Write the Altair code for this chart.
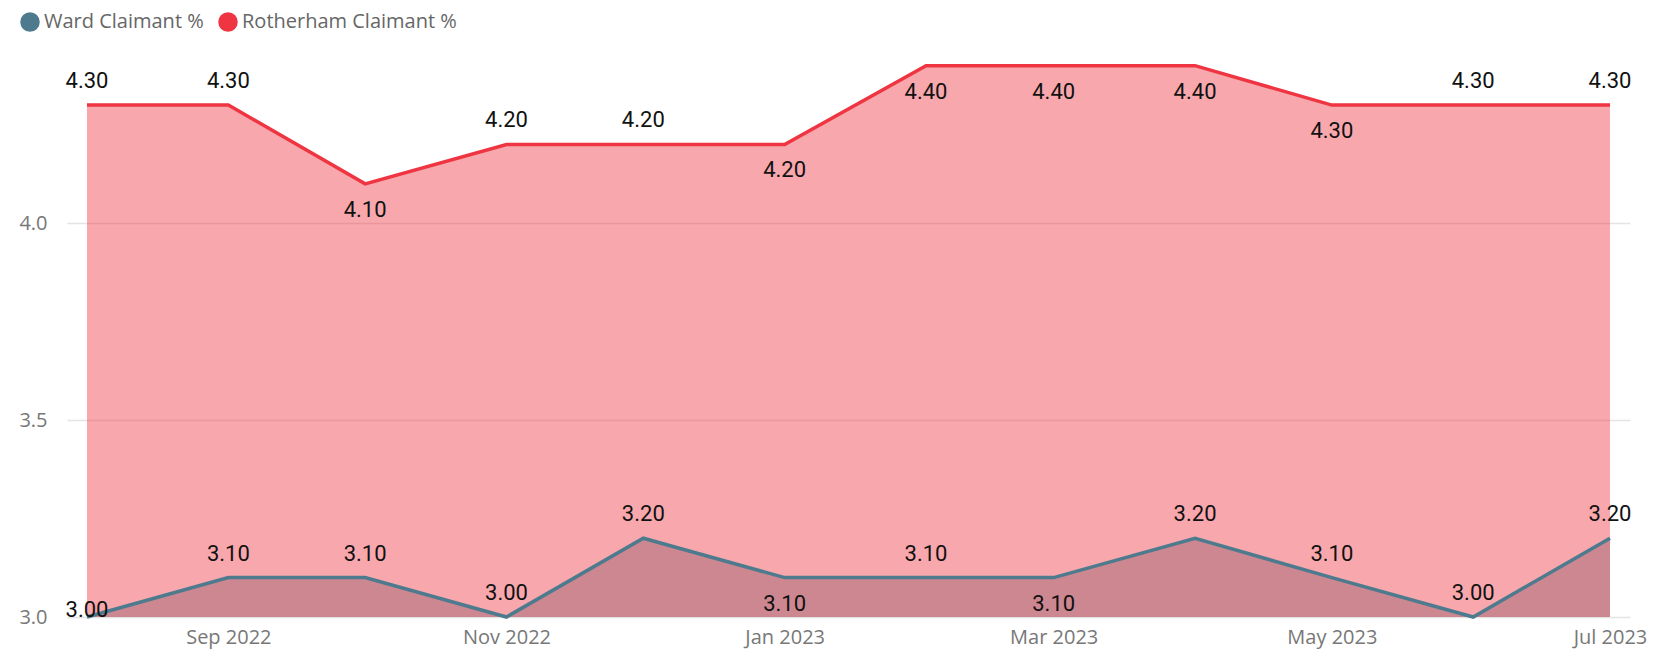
import altair as alt
import pandas as pd

months = ["2022-08-01", "2022-09-01", "2022-10-01", "2022-11-01", "2022-12-01", "2023-01-01",
          "2023-02-01", "2023-03-01", "2023-04-01", "2023-05-01", "2023-06-01", "2023-07-01"]
ward = [3.00, 3.10, 3.10, 3.00, 3.20, 3.10, 3.10, 3.10, 3.20, 3.10, 3.00, 3.20]
rotherham = [4.30, 4.30, 4.10, 4.20, 4.20, 4.20, 4.40, 4.40, 4.40, 4.30, 4.30, 4.30]
ward_label_pos = ["at", "above", "above", "above", "above", "below",
                  "above", "below", "above", "above", "above", "above"]
roth_label_pos = ["above", "above", "below", "above", "above", "below",
                  "below", "below", "below", "below", "above", "above"]
series_names = ["Ward Claimant %", "Rotherham Claimant %"]
series_colors = ["#4E7A8E", "#EE3541"]
tick_months = [(2022, 9), (2022, 11), (2023, 1), (2023, 3), (2023, 5), (2023, 7)]
y_ticks = [3.0, 3.5, 4.0]

rows = []
for m, w, p in zip(months, ward, ward_label_pos):
    rows.append({"month": m + "T00:00:00", "series": series_names[0], "value": w, "pos": p})
for m, r, p in zip(months, rotherham, roth_label_pos):
    rows.append({"month": m + "T00:00:00", "series": series_names[1], "value": r, "pos": p})
df = pd.DataFrame(rows)

x_enc = alt.X(
    "month:T",
    title=None,
    scale=alt.Scale(domain=[alt.DateTime(year=2022, month=7, date=27, hours=14, minutes=44),
                            alt.DateTime(year=2023, month=7, date=5, hours=9, minutes=16)],
                    nice=False),
    axis=alt.Axis(values=[alt.DateTime(year=y, month=mo, date=1) for y, mo in tick_months],
                  format="%b %Y", grid=False, domain=False, ticks=False,
                  labelFont="Open Sans", labelFontSize=20, labelColor="#777777",
                  labelPadding=10, labelFlush=False, labelOverlap=False),
)
y_enc = alt.Y(
    "value:Q",
    title=None,
    stack=None,
    scale=alt.Scale(domain=[3.0, 4.45], nice=False, zero=False),
    axis=alt.Axis(values=y_ticks, format=".1f", domain=False, ticks=False,
                  grid=True, gridColor="#E4E4E4", gridWidth=1.5,
                  labelFont="Open Sans", labelFontSize=20, labelColor="#777777",
                  labelPadding=20),
)
color_enc = alt.Color(
    "series:N",
    scale=alt.Scale(domain=series_names, range=series_colors),
    legend=alt.Legend(title=None, orient="none", direction="horizontal",
                      legendX=-47, legendY=-34, padding=0,
                      symbolType="circle", symbolSize=380, symbolStrokeWidth=0,
                      symbolOpacity=1, labelLimit=0,
                      labelFont="Open Sans", labelFontSize=20, labelColor="#666666",
                      labelOffset=4, columnPadding=14),
)
stroke_enc = alt.Stroke("series:N", scale=alt.Scale(domain=series_names, range=series_colors),
                        legend=None)

base = alt.Chart(df)

ward_area = base.transform_filter(alt.datum.series == series_names[0]).mark_area(
    fillOpacity=0.43, interpolate="linear").encode(x=x_enc, y=y_enc, color=color_enc)
roth_area = base.transform_filter(alt.datum.series == series_names[1]).mark_area(
    fillOpacity=0.43, interpolate="linear").encode(x=x_enc, y=y_enc, color=color_enc)
lines = base.mark_line(strokeWidth=3.5, fill=None).encode(
    x=x_enc, y=y_enc, stroke=stroke_enc, detail="series:N")


def labels(pos, dy):
    return base.transform_filter(alt.datum.pos == pos).mark_text(
        font="Roboto", fontSize=22, color="#111111", baseline="middle", align="center", dy=dy
    ).encode(x=x_enc, y=y_enc, text=alt.Text("value:Q", format=".2f"))


chart = alt.layer(
    ward_area, roth_area, lines,
    labels("above", -24), labels("below", 26), labels("at", -7),
).properties(
    width=1563, height=571,
    autosize=alt.AutoSizeParams(type="none"),
    padding={"left": 59, "top": 38, "right": 30, "bottom": 34},
).configure_view(stroke=None)

chart.save("out.html", embed_options={"renderer": "svg", "actions": False})
